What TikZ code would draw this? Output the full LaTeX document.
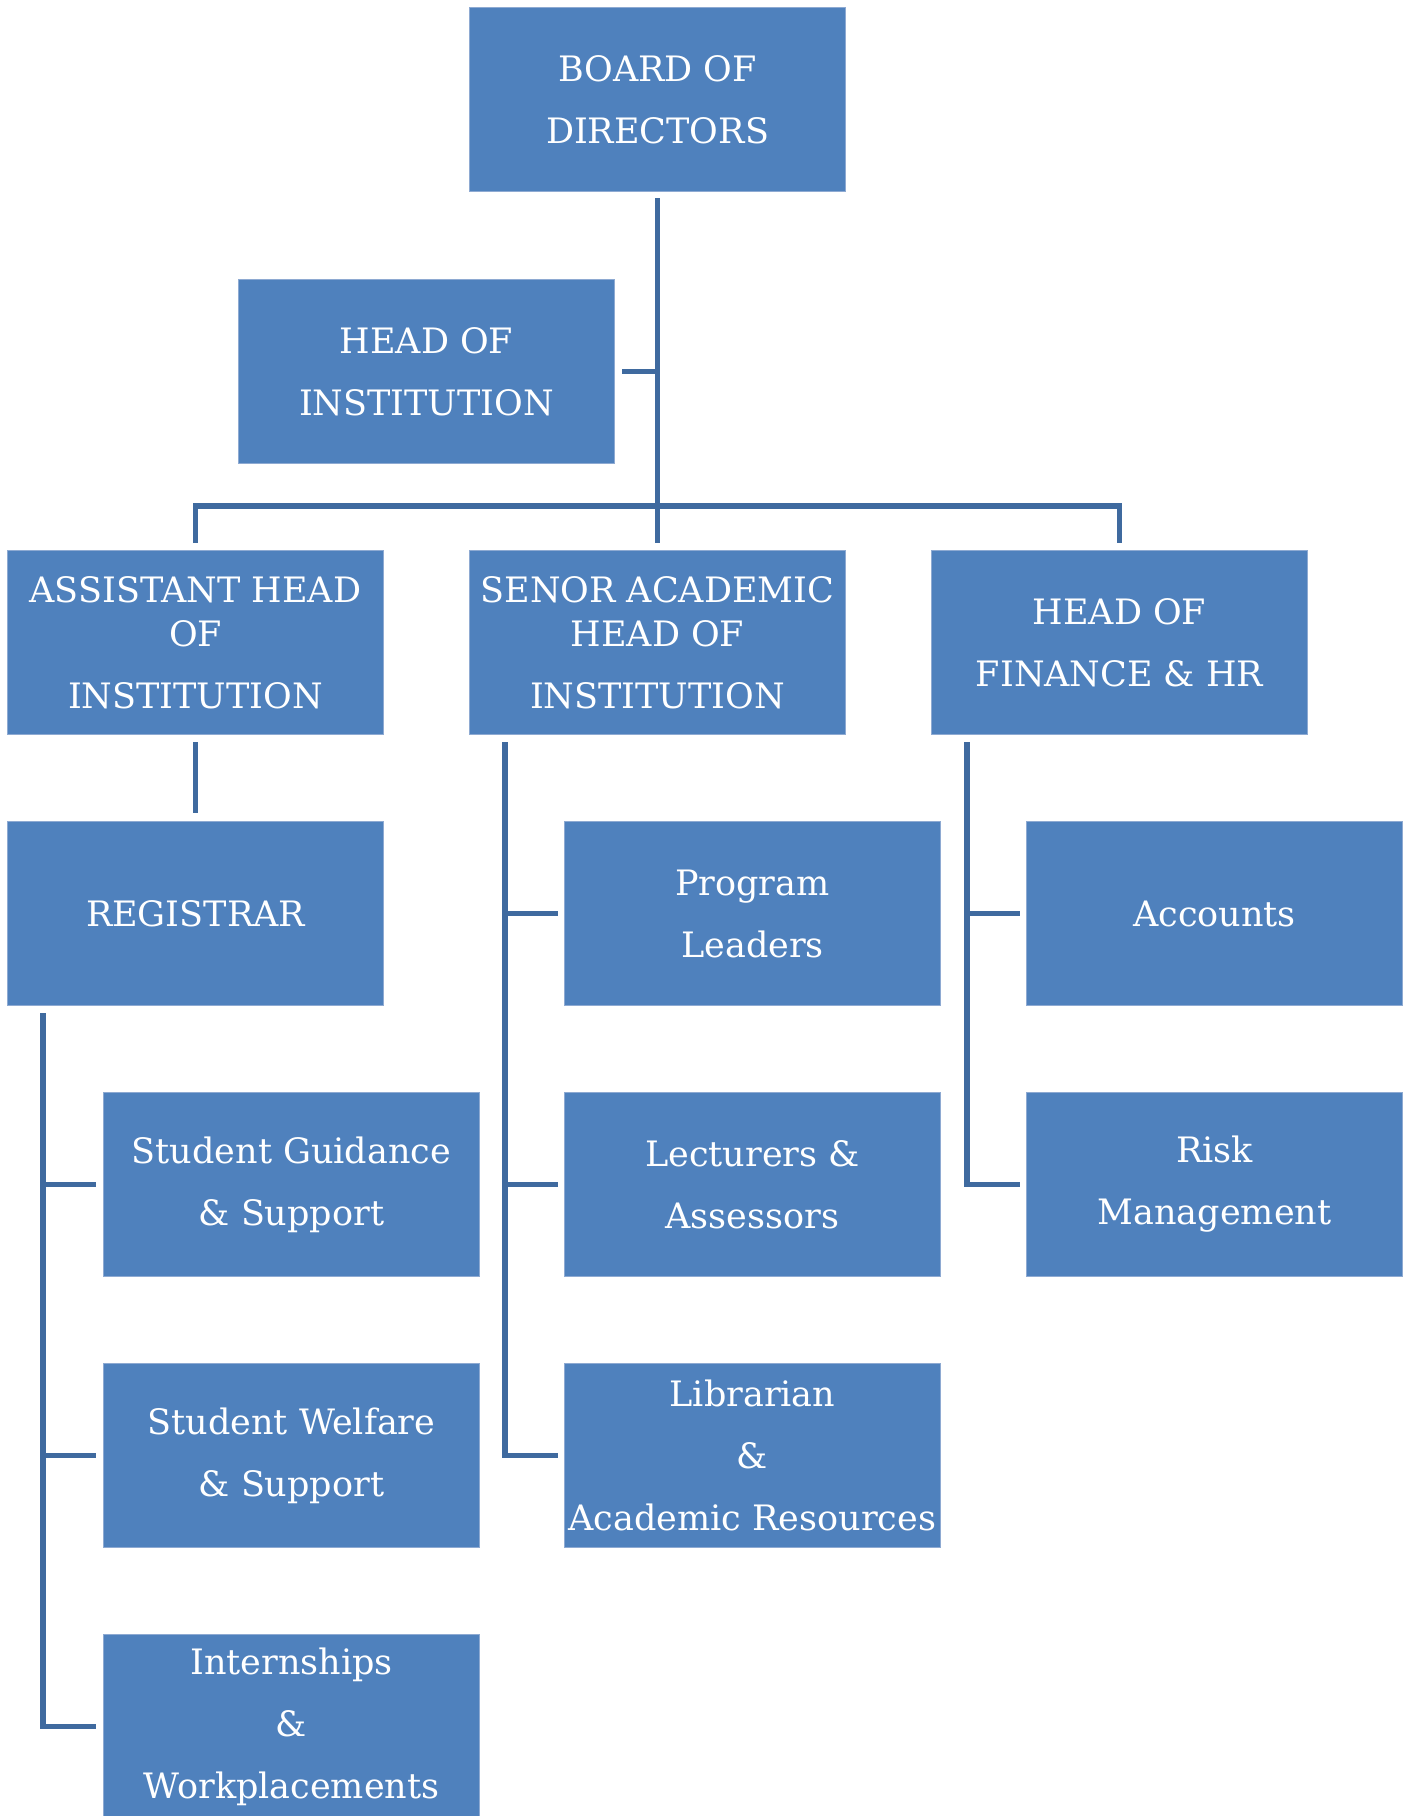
\documentclass[tikz,border=0pt]{standalone}
\usepackage{fontspec}
\setmainfont{DejaVu Serif}
\definecolor{boxblue}{HTML}{4F81BD}
\definecolor{boxedge}{HTML}{8EAAD2}
\definecolor{linkblue}{HTML}{3F6A9F}
\tikzset{every picture/.style={line width=0.75pt}}
\tikzset{
  orgbox/.style={anchor=north west, fill=boxblue, draw=boxedge, line width=0.5pt,
    text=white, align=center, inner sep=1pt,
    minimum width=188pt, minimum height=92pt,
    font=\fontsize{17.5}{31}\selectfont},
  link/.style={draw=linkblue, line width=2.6pt}
}

\begin{document}
\begin{tikzpicture}[x=0.5pt,y=0.5pt,yscale=-1,xscale=1]
    \useasboundingbox (0,0) rectangle (1408,1816);

    % Top of the chart
    \node[orgbox] (board) at (469,7) {BOARD OF\\DIRECTORS};
    \node[orgbox] (hoi) at (238,279) {HEAD OF\\INSTITUTION};

    % Second level
    \node[orgbox] (ahoi) at (7,550) {ASSISTANT HEAD\\[-9pt]OF\\INSTITUTION};
    \node[orgbox] (sahoi) at (469,550) {SENOR ACADEMIC\\[-9pt]HEAD OF\\INSTITUTION};
    \node[orgbox] (hofhr) at (931,550) {HEAD OF\\FINANCE \& HR};

    % Third level
    \node[orgbox] (reg) at (7,821) {REGISTRAR};
    \node[orgbox] (pl) at (564,821) {Program\\Leaders};
    \node[orgbox] (acc) at (1026,821) {Accounts};
    \node[orgbox] (sgs) at (103,1092) {Student Guidance\\\& Support};
    \node[orgbox] (la) at (564,1092) {Lecturers \&\\Assessors};
    \node[orgbox] (risk) at (1026,1092) {Risk\\Management};
    \node[orgbox] (sws) at (103,1363) {Student Welfare\\\& Support};
    \node[orgbox] (lib) at (564,1363) {Librarian\\\&\\Academic Resources};
    \node[orgbox] (iw) at (103,1634) {Internships\\\&\\Workplacements};

    % Trunks (yshift runs downwards here, since yscale=-1)
    \coordinate (regtrunk) at ([xshift=18pt,yshift=3.5pt]reg.south west);
    \coordinate (satrunk) at ([xshift=18pt,yshift=3.5pt]sahoi.south west);
    \coordinate (fintrunk) at ([xshift=18pt,yshift=3.5pt]hofhr.south west);

    % Connectors
    \draw[link] ([yshift=3pt]board.south) -- ([yshift=-3.5pt]sahoi.north);
    \draw[link] ([xshift=3.5pt]hoi.east) -- (hoi.east -| board.south);
    \draw[link] ([yshift=-3.5pt]ahoi.north) -- ++(0,-37) -| ([yshift=-3.5pt]hofhr.north);
    \draw[link] ([yshift=3.5pt]ahoi.south) -- ([yshift=-4pt]reg.north);

    \draw[link] (regtrunk) |- ([xshift=-3.5pt]iw.west);
    \draw[link] (sgs.west -| regtrunk) -- ([xshift=-3.5pt]sgs.west);
    \draw[link] (sws.west -| regtrunk) -- ([xshift=-3.5pt]sws.west);

    \draw[link] (satrunk) |- ([xshift=-3pt]lib.west);
    \draw[link] (pl.west -| satrunk) -- ([xshift=-3pt]pl.west);
    \draw[link] (la.west -| satrunk) -- ([xshift=-3pt]la.west);

    \draw[link] (fintrunk) |- ([xshift=-3pt]risk.west);
    \draw[link] (acc.west -| fintrunk) -- ([xshift=-3pt]acc.west);

\end{tikzpicture}
\end{document}
